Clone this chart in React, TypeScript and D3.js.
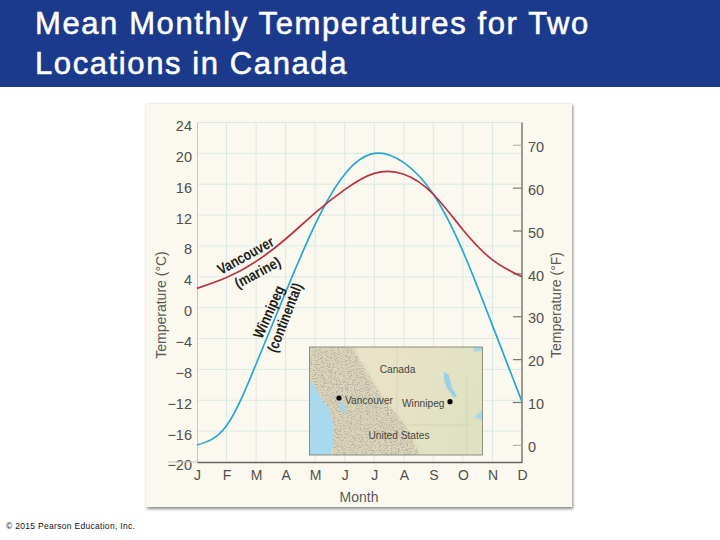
import { useEffect, useRef } from 'react'
import * as d3 from 'd3'

const months = ['J', 'F', 'M', 'A', 'M', 'J', 'J', 'A', 'S', 'O', 'N', 'D']
const celsiusTicks = [24, 20, 16, 12, 8, 4, 0, -4, -8, -12, -16, -20]
const fahrenheitTicks = [70, 60, 50, 40, 30, 20, 10, 0]
const winnipeg = [-17.8, -15.3, -7.3, 2, 10.8, 17.3, 20, 18.8, 14.7, 7.3, -2.3, -12.2]
const vancouver = [2.5, 3.9, 6, 8.9, 12.3, 15.3, 17.4, 17.3, 14.7, 10.1, 6.2, 4]

const FONT = '"Liberation Sans", Arial, sans-serif'

const plot = { left: 197, right: 522, top: 122.5, bottom: 462 }

const monthIndex = d3.range(months.length)

export default function App() {
  const ref = useRef<SVGGElement>(null)

  useEffect(() => {
    if (!ref.current) return
    const g = d3.select(ref.current)
    g.selectAll('*').remove()

    const x = d3.scalePoint<number>().domain(monthIndex).range([plot.left, plot.right])
    const y = d3.scaleLinear().domain([-20, 24]).range([plot.bottom, plot.top])
    const yF = d3
      .scaleLinear()
      .domain([32, 75.2])
      .range([y(0), y(24)])

    // Grid
    g.append('g')
      .selectAll('line')
      .data(monthIndex.slice(1, -1))
      .enter()
      .append('line')
      .attr('x1', (d) => x(d)!)
      .attr('x2', (d) => x(d)!)
      .attr('y1', plot.top)
      .attr('y2', plot.bottom)
      .attr('stroke', '#dbe9e5')
      .attr('stroke-width', 1)
    g.append('g')
      .selectAll('line')
      .data(celsiusTicks.slice(0, -1))
      .enter()
      .append('line')
      .attr('x1', plot.left)
      .attr('x2', plot.right)
      .attr('y1', (d) => y(d))
      .attr('y2', (d) => y(d))
      .attr('stroke', '#dbe9e5')
      .attr('stroke-width', 1)

    // Left axis
    const left = g
      .append('g')
      .attr('transform', `translate(${plot.left}, 0)`)
      .call(
        d3
          .axisLeft(y)
          .tickValues(celsiusTicks)
          .tickSize(0)
          .tickPadding(5)
          .tickFormat((d) => String(d).replace('-', '\u2212'))
      )
    left.select('.domain').attr('stroke', '#b9c9c4')
    left
      .selectAll('text')
      .attr('dy', '0.55em')
      .style('font', `14.5px ${FONT}`)
      .attr('fill', '#4f4f4c')

    // Faint stub at the bottom of the left scale
    g.append('line')
      .attr('x1', 168)
      .attr('x2', plot.left)
      .attr('y1', plot.bottom)
      .attr('y2', plot.bottom)
      .attr('stroke', '#c4c4ba')

    // Right axis
    const right = g
      .append('g')
      .attr('transform', `translate(${plot.right}, 0)`)
      .call(d3.axisRight(yF).tickValues(fahrenheitTicks).tickSize(-9).tickPadding(14))
    right.select('.domain').attr('d', `M0,${plot.top}V${plot.bottom}`).attr('stroke', '#666660').attr('stroke-width', 1.3)
    right.selectAll('.tick line').attr('stroke', (d) => ((d as number) === 70 || (d as number) === 0 ? '#b5b5aa' : '#77776f')).attr('stroke-width', 1.2)
    right
      .selectAll('text')
      .attr('x', 6)
      .attr('dy', '0.46em')
      .style('font', `14.5px ${FONT}`)
      .style('text-anchor', 'start')
      .attr('fill', '#4f4f4c')

    // Bottom axis
    const bottom = g
      .append('g')
      .attr('transform', `translate(0, ${plot.bottom})`)
      .call(
        d3
          .axisBottom(x)
          .tickSize(0)
          .tickPadding(8.5)
          .tickFormat((d) => months[d as number])
      )
    bottom.select('.domain').attr('stroke', '#666660').attr('stroke-width', 1.3)
    bottom
      .selectAll('text')
      .style('font', `14px ${FONT}`)
      .attr('fill', '#4f4f4c')

    // Curves
    const line = d3
      .line<number>()
      .x((_, i) => x(i)!)
      .y((d) => y(d))
      .curve(d3.curveNatural)
    g.append('path').attr('d', line(winnipeg)!).attr('fill', 'none').attr('stroke', '#27a6cf').attr('stroke-width', 1.7)
    g.append('path').attr('d', line(vancouver)!).attr('fill', 'none').attr('stroke', '#b8323f').attr('stroke-width', 1.7)
  }, [])

  return (
    <svg
      width={720}
      height={540}
      viewBox="0 0 720 540"
      style={{ position: 'absolute', left: 0, top: 0, background: '#fff' }}
    >
      <defs>
        <filter id="shadow" x="-5%" y="-5%" width="110%" height="110%">
          <feGaussianBlur stdDeviation="1.6" />
        </filter>
        <filter id="rock" x="0" y="0" width="100%" height="100%">
          <feTurbulence type="fractalNoise" baseFrequency="0.55 0.7" numOctaves="3" seed="11" />
          <feColorMatrix
            type="matrix"
            values="0 0 0 0 0.42  0 0 0 0 0.4  0 0 0 0 0.36  3 0 0 0 -1.35"
          />
          <feGaussianBlur stdDeviation="0.3" />
          <feComposite in2="SourceGraphic" operator="in" />
        </filter>
        <filter id="soft" x="-10%" y="-10%" width="120%" height="120%">
          <feGaussianBlur stdDeviation="2.2" />
        </filter>
        <linearGradient id="land" x1="0" y1="0" x2="1" y2="0.3">
          <stop offset="0" stopColor="#e9e3cc" />
          <stop offset="0.55" stopColor="#e8e2c6" />
          <stop offset="1" stopColor="#dfe2c2" />
        </linearGradient>
        <clipPath id="map">
          <rect x={309.5} y={347} width={173} height={108} />
        </clipPath>
      </defs>

      <rect x={0} y={0} width={720} height={87} fill="#1c3a8c" />
      <g fill="#fff" stroke="#fff" strokeWidth={0.55} fontFamily={FONT} fontSize={31} letterSpacing={1.6}>
        <text x={35} y={34}>Mean Monthly Temperatures for Two</text>
        <text x={35} y={74}>Locations in Canada</text>
      </g>

      <rect x={147} y={105} width={426} height={404} fill="#8a8a86" filter="url(#shadow)" />
      <rect x={146} y={104} width={426} height={403} fill="#fbf9ef" />

      <g ref={ref} />

      <g clipPath="url(#map)">
        <rect x={309.5} y={347} width={173} height={108} fill="url(#land)" />
        <path d="M309,347H352L381,395L405,425L420,455H333L331,430L322,400L310,382Z" fill="#dcd5ba" filter="url(#soft)" />
        <path d="M309,347H352L381,395L405,425L420,455H333L331,430L322,400L310,382Z" fill="#fff" filter="url(#rock)" />
        <path d="M309,380L315,387L322,400L328,407L333,423L333,445L331,455H309Z" fill="#a9d9ef" />
        <path d="M340,400L346,407L345,414L340,410Z" fill="#a9d3df" />
        <path d="M444,372L449,375L452,388L457,396L454,398L447,388L444,380Z" fill="#9fd0e2" />
        <path d="M473,347H482V351L474,352Z" fill="#a9d9e6" />
        <path d="M474,417L482,410V420Z" fill="#a9d9e6" />
        <path d="M355,347V425M397,347V430M423,425H470M467,375V455M340,425H423" fill="none" stroke="#d2cdb0" strokeWidth={0.6} />
      </g>
      <rect x={309.5} y={347} width={173} height={108} fill="none" stroke="#77776a" strokeWidth={0.8} />
      <g fontFamily={FONT} fontSize={10.2} fill="#45453e">
        <text x={397.5} y={373} textAnchor="middle">Canada</text>
        <text x={345} y={404}>Vancouver</text>
        <text x={402} y={407}>Winnipeg</text>
        <text x={399} y={439} textAnchor="middle">United States</text>
      </g>
      <circle cx={339} cy={398} r={2.6} fill="#000" />
      <circle cx={450} cy={401.7} r={2.6} fill="#000" />

      <g fontFamily={FONT} fontWeight={700} fontSize={15} fill="#1d1d1b" textAnchor="middle">
        <text transform="translate(248, 260) rotate(-29)" textLength={62} lengthAdjust="spacingAndGlyphs">Vancouver</text>
        <text transform="translate(260, 277) rotate(-28)" textLength={50} lengthAdjust="spacingAndGlyphs">(marine)</text>
        <text transform="translate(273.5, 314) rotate(-66)" textLength={56} lengthAdjust="spacingAndGlyphs">Winnipeg</text>
        <text transform="translate(289.5, 319.5) rotate(-69)" textLength={73} lengthAdjust="spacingAndGlyphs">(continental)</text>
      </g>

      <g fontFamily={FONT} fontSize={14} fill="#5a5a55" textAnchor="middle">
        <text x={359} y={502}>Month</text>
        <text transform="translate(166, 305) rotate(-90)">Temperature (°C)</text>
        <text transform="translate(561, 305) rotate(-90)">Temperature (°F)</text>
      </g>

      <text x={6} y={529} fontFamily={FONT} fontSize={8.5} fill="#111" letterSpacing={0.3}>
        © 2015 Pearson Education, Inc.
      </text>
    </svg>
  )
}
